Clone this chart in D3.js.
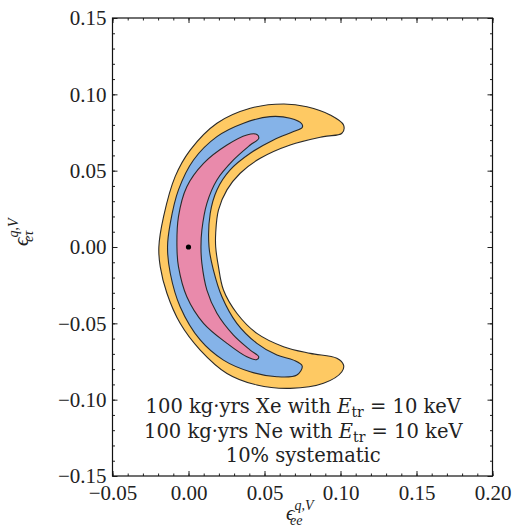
<!DOCTYPE html>
<html>
<head>
<meta charset="utf-8">
<script src="https://cdn.jsdelivr.net/npm/d3@7"></script>
<style>
  body { margin: 0; background: #fff; }
  svg text { font-family: "Liberation Serif", "DejaVu Serif", serif; fill: #222; }
  .axis path { display: none; }
  .axis line { stroke: #222; stroke-width: 1; }
</style>
</head>
<body>
<div id="chart"></div>
<script>
// contour points (eps_ee, eps_etau)
var outer_3s = [
    [-0.0195, 0], [-0.0164, 0.0199], [-0.0088, 0.0461], [0.0011, 0.0635], [0.0187, 0.0811],
    [0.0406, 0.0909], [0.0625, 0.0937], [0.0779, 0.0919], [0.0932, 0.0865], [0.1020, 0.0799],
    [0.1009, 0.0745], [0.0888, 0.0723], [0.0669, 0.0668], [0.0472, 0.0581], [0.0340, 0.0483],
    [0.0253, 0.0374], [0.0197, 0.0242], [0.0179, 0.0092], [0.0179, 0], [0.0197, -0.0129],
    [0.0230, -0.0282], [0.0318, -0.0434], [0.0450, -0.0566], [0.0625, -0.0653], [0.0801, -0.0697],
    [0.0976, -0.0729], [0.1020, -0.0773], [0.1009, -0.0817], [0.0888, -0.0893], [0.0669, -0.0926],
    [0.0450, -0.0904], [0.0253, -0.0828], [0.0077, -0.0675], [-0.0055, -0.0500], [-0.0142, -0.0303],
    [-0.0186, -0.0129]
];

var outer_2s = [
    [-0.0138, 0], [-0.0120, 0.0155], [-0.0066, 0.0374], [0.0033, 0.0570], [0.0187, 0.0723],
    [0.0362, 0.0811], [0.0538, 0.0854], [0.0669, 0.0843], [0.0746, 0.0806], [0.0748, 0.0783],
    [0.0691, 0.0756], [0.0559, 0.0701], [0.0406, 0.0614], [0.0274, 0.0505], [0.0187, 0.0374],
    [0.0143, 0.0221], [0.0135, 0], [0.0164, -0.0151], [0.0220, -0.0326], [0.0318, -0.0500],
    [0.0450, -0.0631], [0.0582, -0.0708], [0.0691, -0.0741], [0.0748, -0.0780], [0.0713, -0.0839],
    [0.0582, -0.0850], [0.0406, -0.0817], [0.0230, -0.0741], [0.0077, -0.0609], [-0.0055, -0.0391],
    [-0.0120, -0.0172]
];

var outer_1s = [
    [-0.0076, 0], [-0.0066, 0.0199], [-0.0011, 0.0395], [0.0099, 0.0548], [0.0253, 0.0668],
    [0.0384, 0.0734], [0.0450, 0.0737], [0.0462, 0.0712], [0.0406, 0.0668], [0.0296, 0.0570],
    [0.0187, 0.0439], [0.0121, 0.0286], [0.0088, 0.0111], [0.0082, 0], [0.0088, -0.0107],
    [0.0121, -0.0282], [0.0187, -0.0434], [0.0296, -0.0577], [0.0406, -0.0675], [0.0462, -0.0719],
    [0.0450, -0.0737], [0.0384, -0.0719], [0.0253, -0.0631], [0.0099, -0.0500], [-0.0011, -0.0326],
    [-0.0066, -0.0129]
];

var best_fit = [[0, 0]];

var x_ticks = [-0.05, 0.00, 0.05, 0.10, 0.15, 0.20],
    y_ticks = [-0.15, -0.10, -0.05, 0.00, 0.05, 0.10, 0.15],
    x_minor = d3.range(-50, 201, 10).map(function(d) { return d / 1000; }),
    y_minor = d3.range(-150, 151, 10).map(function(d) { return d / 1000; });

var notes = ["100 kg·yrs Xe with ", "100 kg·yrs Ne with ", "10% systematic"];

var margins = {top: 18, right: 22.5, bottom: 54, left: 112.5},
    width = 515 - margins.left - margins.right,
    height = 530 - margins.top - margins.bottom;

var svg = d3.select("#chart").append("svg")
    .attr("width", 515)
    .attr("height", 530);

var g = svg.append("g")
    .attr("transform", "translate(" + margins.left + "," + margins.top + ")");

var x = d3.scaleLinear().domain([-0.05, 0.20]).range([0, width]);
var y = d3.scaleLinear().domain([-0.15, 0.15]).range([height, 0]);

var line = d3.line()
    .x(function(d) { return x(d[0]); })
    .y(function(d) { return y(d[1]); })
    .curve(d3.curveCatmullRomClosed.alpha(0.5));

var regions = [
    {pts: outer_3s, color: "#fec963"},
    {pts: outer_2s, color: "#85b3e8"},
    {pts: outer_1s, color: "#e98aab"}
];

g.selectAll("path.region").data(regions).enter().append("path")
    .attr("class", "region")
    .attr("d", function(d) { return line(d.pts); })
    .style("fill", function(d) { return d.color; })
    .style("stroke", "#2a2a2a")
    .style("stroke-width", 1.1);

g.selectAll("circle").data(best_fit).enter().append("circle")
    .attr("cx", function(d) { return x(d[0]); })
    .attr("cy", function(d) { return y(d[1]); })
    .attr("r", 2.6)
    .style("fill", "#000");

// axes: ticks point inwards on all four sides
var fmt = d3.format(".2f");

g.append("g").attr("class", "axis")
    .attr("transform", "translate(0," + height + ")")
    .call(d3.axisBottom(x).tickValues(x_ticks).tickFormat(fmt).tickSize(-5).tickPadding(6))
    .selectAll("text").style("font-size", "21px").attr("dy", "0.85em");

g.append("g").attr("class", "axis")
    .attr("transform", "translate(0," + height + ")")
    .call(d3.axisBottom(x).tickValues(x_minor).tickFormat("").tickSize(-2.5));

g.append("g").attr("class", "axis")
    .call(d3.axisTop(x).tickValues(x_ticks).tickFormat("").tickSize(-5));

g.append("g").attr("class", "axis")
    .call(d3.axisTop(x).tickValues(x_minor).tickFormat("").tickSize(-2.5));

g.append("g").attr("class", "axis")
    .call(d3.axisLeft(y).tickValues(y_ticks).tickFormat(fmt).tickSize(-5).tickPadding(6))
    .selectAll("text").style("font-size", "21px");

g.append("g").attr("class", "axis")
    .call(d3.axisLeft(y).tickValues(y_minor).tickFormat("").tickSize(-2.5));

g.append("g").attr("class", "axis")
    .attr("transform", "translate(" + width + ",0)")
    .call(d3.axisRight(y).tickValues(y_ticks).tickFormat("").tickSize(-5));

g.append("g").attr("class", "axis")
    .attr("transform", "translate(" + width + ",0)")
    .call(d3.axisRight(y).tickValues(y_minor).tickFormat("").tickSize(-2.5));

g.append("rect")
    .attr("width", width)
    .attr("height", height)
    .style("fill", "none")
    .style("stroke", "#111")
    .style("stroke-width", 1.2);

// annotation
var note = g.append("text")
    .attr("text-anchor", "middle")
    .style("font-family", "'DejaVu Serif', serif")
    .style("font-size", "19.5px");

notes.forEach(function(t, i) {
    note.append("tspan")
        .attr("x", x(0.0755))
        .attr("y", y(-0.1090) + i * 24.3)
        .text(t);
    if (i < 2) {
        note.append("tspan").style("font-style", "italic").text("E");
        note.append("tspan").attr("dy", 4).style("font-size", "14px").text("tr");
        note.append("tspan").attr("dy", -4).text(" = 10 keV");
    }
});

// axis labels
var xl = svg.append("text")
    .attr("x", 286)
    .attr("y", 520)
    .style("font-size", "21px");
xl.append("tspan").style("font-style", "italic").text("ϵ");
xl.append("tspan").attr("dy", -10).style("font-size", "14px").style("font-style", "italic").text("q,V");
xl.append("tspan").attr("dx", -22).attr("dy", 15).style("font-size", "14px").style("font-style", "italic").text("ee");

var yl = svg.append("text")
    .attr("transform", "translate(28,246) rotate(-90)")
    .style("font-size", "21px");
yl.append("tspan").style("font-style", "italic").text("ϵ");
yl.append("tspan").attr("dy", -10).style("font-size", "14px").style("font-style", "italic").text("q,V");
yl.append("tspan").attr("dx", -22).attr("dy", 15).style("font-size", "14px").style("font-style", "italic").text("eτ");
</script>
</body>
</html>
